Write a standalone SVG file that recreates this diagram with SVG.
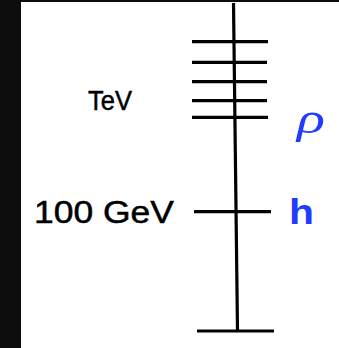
<svg xmlns="http://www.w3.org/2000/svg" width="339" height="348" viewBox="0 0 339 348">
<style>
.ln{stroke:#000;stroke-width:3.2;fill:none;stroke-linecap:butt}
.lab{font-family:"Liberation Sans","DejaVu Sans",sans-serif;fill:#000;stroke:#000;stroke-width:0.5}
.sym{fill:#1f3cff}
</style>
<rect x="0" y="0" width="339" height="348" fill="#fff"/>
<rect x="0" y="0" width="21" height="348" fill="#0d0d0d"/>
<rect x="0" y="0" width="339" height="2" fill="#0d0d0d"/>
<g id="connectors">
<line class="ln" x1="233.5" y1="3" x2="237.5" y2="331"/>
</g>
<g id="rho-levels">
<line class="ln" x1="192" y1="41.7" x2="268" y2="41.7"/>
<line class="ln" x1="192" y1="62.3" x2="267" y2="62.3"/>
<line class="ln" x1="192" y1="81.7" x2="267" y2="81.7"/>
<line class="ln" x1="192" y1="100.7" x2="267" y2="100.7"/>
<line class="ln" x1="192" y1="117.3" x2="268" y2="117.3"/>
</g>
<g id="h-level">
<line class="ln" x1="194" y1="211.7" x2="271" y2="211.7"/>
</g>
<g id="ground">
<line class="ln" x1="197" y1="331" x2="274" y2="331"/>
</g>
<g id="label-tev">
<text class="lab" x="88" y="109.5" font-size="28" textLength="44" lengthAdjust="spacingAndGlyphs">TeV</text>
</g>
<g id="label-100gev">
<text class="lab" x="34" y="222.5" font-size="31" textLength="140" lengthAdjust="spacingAndGlyphs">100 GeV</text>
</g>
<g id="label-rho">
<text class="sym" x="297" y="133" font-family="Liberation Serif,serif" font-style="italic" font-size="45" textLength="28" lengthAdjust="spacingAndGlyphs">ρ</text>
</g>
<g id="label-h">
<text class="sym" x="289" y="224" font-family="Liberation Sans,sans-serif" font-weight="bold" font-size="35" textLength="25" lengthAdjust="spacingAndGlyphs">h</text>
</g>
</svg>
